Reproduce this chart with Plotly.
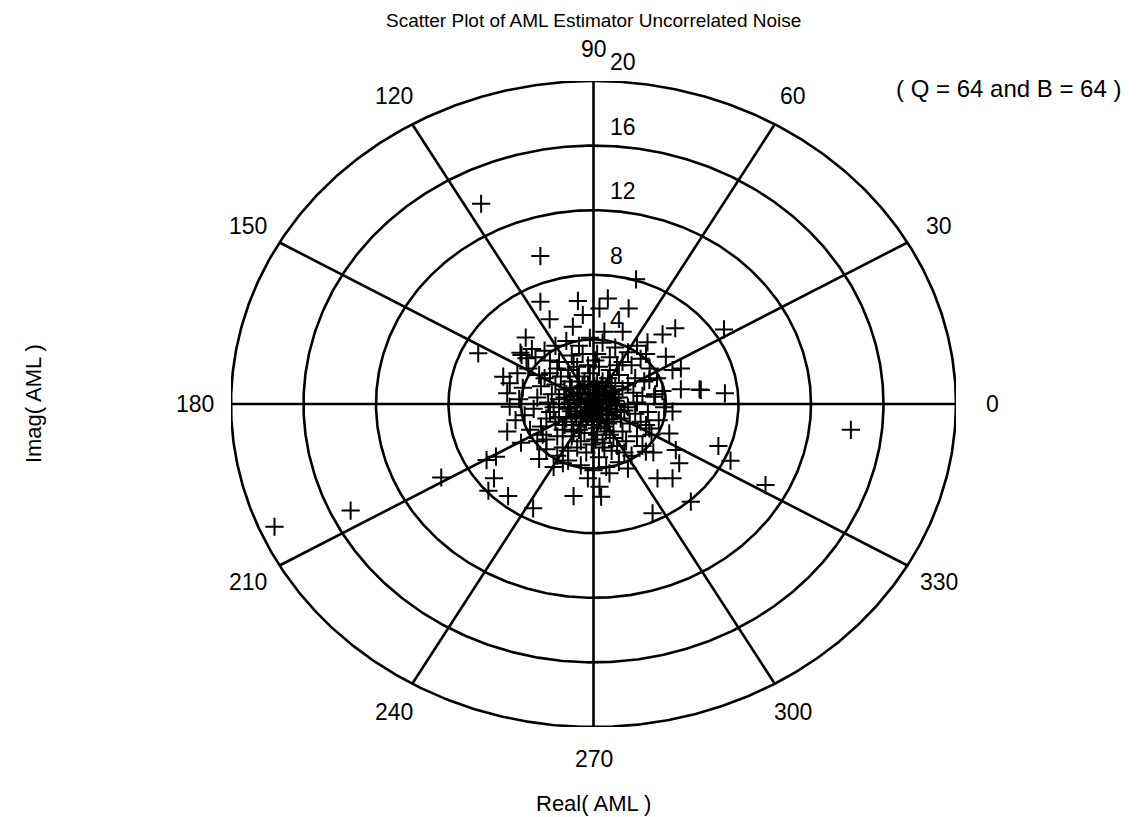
import numpy as np
import plotly.graph_objects as go

# ---------------- data ----------------
outer_real = [-17.6, -13.4, -8.4, -6.2, -2.93, 2.35, 14.2, 9.49, 7.2, -6.36, 5.37, 3.26,
              -3.33, -1.1, 0.42, 0.33, -0.31, 0.88, 3.53, 4.36, 7.56, 6.89, 4.73, 4.54,
              7.25, 5.92, 5.85, 4.82, 4.82, 4.36, 3.99, 4.51, 3.81, 2.98, 1.61, 0.6,
              1.94, 0.33, 0.79, -0.86, -0.59, -1.14, -2.42, -2.93, -3.74, -3.97, -4.03,
              -3.7, -4.98, -4.62, -4.76, -4.62, -4.76, -5.9, -5.38, -5.49, -5.8, -4.71,
              -1.69, 4.36, 4.18, 3.08, 2.89, 3.35, 3.08]
outer_imag = [-7.6, -6.6, -4.55, 12.4, 9.16, 7.72, -1.6, -5.02, 4.62, 3.14, -6.05, -6.77,
              -6.46, -5.7, -5.74, -5.12, -4.6, -4.29, -4.6, -4.6, -3.51, -2.6, -3.67, -2.85,
              0.66, 0.87, 0.9, 0.91, 2.2, 2.1, 2.93, 4.69, 4.31, 3.82, 4.48, 4.48,
              5.92, 5.92, 6.54, 6.38, 5.51, 4.79, 5.24, 6.33, 4.11, 3.03, 3.18,
              2.83, 1.69, 1.28, 0.66, -0.17, -1.71, -3.47, -3.26, -4.6, -5.37, -5.7,
              -3.67, -0.47, -1.82, -1.51, -2.95, 0.45, 1.49]

mid_real = [-3.9, -3.6, -3.2, -2.7, -2.1, -1.5, -0.8, -0.2, 0.5, 1.2, 1.9, 2.6, 3.1, 3.5, 3.8,
            3.9, 3.6, 3.2, 2.7, 2.1, 1.4, 0.7, 0.0, -0.7, -1.4, -2.0, -2.6, -3.1, -3.5, -3.8,
            -4.1, -4.3, -4.2, -3.4, -2.4, -1.2, 0.2, 1.6, 2.8, 3.0, 2.4, 1.0, -0.4, -1.7,
            -2.9, -3.1, -2.2, 1.9, 2.4, -4.0, 3.3, -3.0, 2.9]
mid_imag = [1.0, 2.2, 2.9, 3.3, 3.6, 3.9, 3.6, 4.1, 3.8, 3.5, 3.2, 2.8, 2.2, 1.6, 0.8,
            -0.2, -1.0, -1.9, -2.6, -3.2, -3.6, -3.9, -4.1, -3.8, -3.5, -3.2, -2.8, -2.3, -1.6, -0.7,
            0.3, -1.0, 1.9, 3.4, 2.7, 3.0, 3.1, 2.6, 1.4, -0.5, -2.0, -2.9, -3.0, -2.7,
            -1.4, 0.4, -3.9, -4.0, 3.6, -2.4, -3.0, -3.4, 3.1]

near_real = [-2.3, -2.1, -1.8, -1.4, -0.9, -0.3, 0.3, 0.9, 1.4, 1.9, 2.2, 2.4, 2.3, 2.0, 1.6,
             1.1, 0.5, -0.1, -0.7, -1.2, -1.7, -2.1, -2.4, -2.5, -2.0, -1.1, 0.1, 1.3, 2.3,
             2.6, 1.8, 0.6, -0.9, -2.0, -2.6, -2.7, -1.6, -1.5, 1.6, 1.5, 0.8, -0.8, 0.7,
             -0.8, -1.9, 1.9, -0.2, 0.2, -2.8, 2.7]
near_imag = [0.6, 1.2, 1.7, 2.1, 2.3, 2.4, 2.3, 2.1, 1.8, 1.3, 0.7, 0.1, -0.6, -1.2, -1.7,
             -2.1, -2.4, -2.5, -2.3, -2.0, -1.6, -1.1, -0.5, 0.1, 2.2, 2.6, 2.7, 2.4, 1.6,
             -1.1, -2.3, -2.7, -2.7, -2.0, -0.9, 1.6, 0.9, -0.9, 0.9, -0.9, 1.6, 1.7, -1.7,
             -1.6, 0.3, -0.2, 1.9, -1.9, -1.9, 0.5]

core_real = [0.0, 0.2, -0.3, 0.4, -0.2, 0.6, -0.6, 0.5, -0.5, 0.9, -0.9, 0.1, 0.0, 1.1, -1.1,
             0.7, -0.6, 1.0, -1.0, 0.4, -0.4, 1.3, -1.3, 0.2, -0.1, 1.2, -1.2, 1.1, -1.2, 0.8,
             -0.8, 0.3, -0.3, 0.3, -0.3, 0.7, -0.7, 1.4, -1.4, 0.5, -0.5, 0.6, -0.7, 1.5, -1.5,
             0.1, -0.1, 0.15, -0.45, 0.55, 0.95, -0.95, 0.85, -0.85, 0.05, -0.05, 0.35, 1.25,
             -1.25, 0.45, -0.25, 0.25, -1.05, 1.05, 0.65, -0.65, 0.75, -0.75]
core_imag = [0.0, 0.3, 0.2, -0.2, -0.4, 0.5, 0.6, -0.6, -0.5, 0.1, 0.0, 0.9, -0.9, 0.6, 0.5,
             1.0, 1.1, -0.7, -0.6, -1.1, -1.1, -0.1, 0.1, 1.3, -1.3, 1.1, 1.0, -1.1, -1.1, 0.3,
             0.3, 0.7, 0.7, -0.7, -0.8, -0.3, -0.2, 0.4, -0.3, 1.4, 1.4, -1.4, -1.3, -0.5, 0.6,
             0.5, -0.2, -0.45, 0.05, 0.15, 0.85, -0.85, -0.95, 0.95, 1.1, 0.35, 0.05, -0.35,
             -0.45, 1.15, 1.05, -1.05, 0.25, 0.35, 0.75, -0.75, -0.65, 0.65]

extra_real = [-1.6, -1.3, -0.9, -0.6, -0.3, 0.2, 0.5, 0.8, 1.2, 1.7, -2.2, -1.9, -1.6, -1.1,
              -0.5, 0.1, 0.9, 1.3, -2.4, -2.9, -3.3, -2.6, -1.4, 0.3, 1.7, 2.9, 3.4, 2.1,
              0.9, -0.6, -1.9, -3.0, -0.2, 0.4, -0.7, 0.7, -0.4, 0.1, 1.0, -1.3]
extra_imag = [0.4, -0.2, 0.7, -0.9, 1.2, -1.5, 0.3, -1.2, 0.2, -0.4, -0.2, -0.8, -1.3, -1.7,
              -1.8, -2.2, -1.9, -2.6, 1.9, 1.1, -0.3, -2.2, -2.9, -3.3, -3.0, -1.3, 0.6, 2.4,
              2.9, 3.1, 2.6, 1.8, 0.6, -0.4, 0.1, 0.6, -0.6, -0.6, 1.3, 1.4]

real_aml = outer_real + mid_real + near_real + core_real + extra_real
imag_aml = outer_imag + mid_imag + near_imag + core_imag + extra_imag

ring_radii = [4, 8, 12, 16, 20]
ring_labels = ["4", "8", "12", "16", "20"]
spoke_angles = [0, 30, 60, 90, 120, 150]
angle_ticks = [0, 30, 60, 90, 120, 150, 180, 210, 240, 270, 300, 330]
angle_labels = ["0", "30", "60", "90", "120", "150", "180", "210", "240", "270", "300", "330"]
r_max = 20

title_text = "Scatter Plot of AML Estimator Uncorrelated Noise"
note_text = "( Q = 64 and B = 64 )"
x_label = "Real( AML )"
y_label = "Imag( AML )"

FONT = "Liberation Sans, Arial, Helvetica, sans-serif"


def to_paper_x(v):
    return (v + r_max) / (2 * r_max)


def to_paper_y(v):
    return (v + r_max) / (2 * r_max)


# ---------------- grid ----------------
t = np.linspace(0, 2 * np.pi, 721)
gx, gy = [], []
for r in ring_radii:
    gx += list(r * np.cos(t)) + [None]
    gy += list(r * np.sin(t)) + [None]
for a in spoke_angles:
    c, s = np.cos(np.deg2rad(a)), np.sin(np.deg2rad(a))
    gx += [-r_max * c, r_max * c, None]
    gy += [-r_max * s, r_max * s, None]

fig = go.Figure()
fig.add_trace(go.Scatter(x=gx, y=gy, mode="lines",
                         line=dict(color="black", width=2.6),
                         hoverinfo="skip", cliponaxis=False))
fig.add_trace(go.Scatter(x=real_aml, y=imag_aml, mode="markers",
                         marker=dict(symbol="cross-thin", size=13,
                                     line=dict(color="black", width=2)),
                         cliponaxis=False))

ann = []
for a, lab in zip(angle_ticks, angle_labels):
    rr = 1.1 * r_max
    ann.append(dict(x=to_paper_x(rr * np.cos(np.deg2rad(a))),
                    y=to_paper_y(rr * np.sin(np.deg2rad(a))),
                    xref="paper", yref="paper", text=lab, showarrow=False,
                    xanchor="center", yanchor="middle",
                    font=dict(family=FONT, size=23, color="black")))
for r, lab in zip(ring_radii, ring_labels):
    ann.append(dict(x=to_paper_x(0.8), y=to_paper_y(r + 0.25),
                    xref="paper", yref="paper", text=lab, showarrow=False,
                    xanchor="left", yanchor="bottom",
                    font=dict(family=FONT, size=23, color="black")))

ann.append(dict(x=1.073, y=0.989, xref="paper", yref="paper", text=note_text,
                showarrow=False, xanchor="center", yanchor="middle",
                font=dict(family=FONT, size=24, color="black")))
ann.append(dict(x=0.5, y=-0.118, xref="paper", yref="paper", text=x_label,
                showarrow=False, xanchor="center", yanchor="middle",
                font=dict(family=FONT, size=22, color="black")))
ann.append(dict(x=-0.273, y=0.5, xref="paper", yref="paper", text=y_label,
                showarrow=False, xanchor="center", yanchor="middle", textangle=-90,
                font=dict(family=FONT, size=22, color="black")))
ann.append(dict(x=0.5, y=1.113, xref="paper", yref="paper", text=title_text,
                showarrow=False, xanchor="center", yanchor="top",
                font=dict(family=FONT, size=19, color="black")))

# the page body adds an 8px margin, so the figure is 8px smaller and shifted
fig.update_layout(
    width=1136, height=809,
    margin=dict(l=223, r=188, t=73, b=90),
    paper_bgcolor="white", plot_bgcolor="white",
    showlegend=False,
    xaxis=dict(range=[-r_max, r_max], visible=False, fixedrange=True),
    yaxis=dict(range=[-r_max, r_max], visible=False, fixedrange=True),
    annotations=ann,
)

fig.write_html("out.html")
